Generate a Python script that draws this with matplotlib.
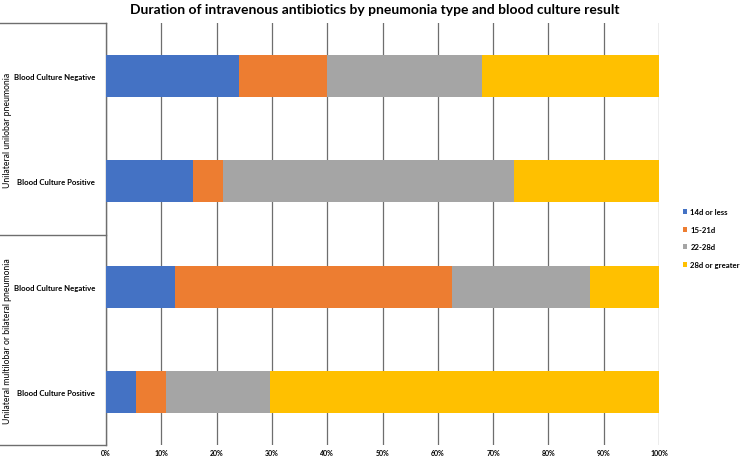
import matplotlib.pyplot as plt
import numpy as np

plt.rcParams['font.family'] = ['Lato', 'DejaVu Sans']

# categories, top to bottom
groups = ["Unilateral unilobar pneumonia", "Unilateral multilobar or bilateral pneumonia"]
rows = ["Blood Culture Negative", "Blood Culture Positive",
        "Blood Culture Negative", "Blood Culture Positive"]
series = ["14d or less", "15-21d", "22-28d", "28d or greater"]
colors = ["#4472C4", "#ED7D31", "#A5A5A5", "#FFC000"]

# percent of patients in each duration band
d14 = [24.0, 15.8, 12.5, 5.4]
d15_21 = [16.0, 5.3, 50.0, 5.4]
d22_28 = [28.0, 52.6, 25.0, 18.9]
d28plus = [32.0, 26.3, 12.5, 70.3]
values = [d14, d15_21, d22_28, d28plus]

fig = plt.figure(figsize=(7.4, 4.6), dpi=100)
ax = fig.add_axes([106 / 740, 14 / 460, 553 / 740, 422 / 460])

y = np.arange(len(rows))
left = np.zeros(len(rows))
for name, vals, c in zip(series, values, colors):
    ax.barh(y, vals, left=left, height=0.4, color=c, label=name, zorder=3)
    left += np.array(vals)

ax.set_ylim(3.5, -0.5)
ax.set_xlim(0, 100)
ax.set_xticks(np.arange(0, 101, 10))
ax.set_xticklabels([f"{v}%" for v in range(0, 101, 10)], fontsize=5, fontweight='bold')
ax.set_yticks(y)
ax.set_yticklabels(rows, fontsize=5.6, fontweight='bold')
ax.tick_params(axis='x', length=0, pad=3)
ax.tick_params(axis='y', length=0, pad=8)
ax.xaxis.grid(True, color='#6e6e6e', linewidth=0.9, zorder=0)
for s in ['top', 'right', 'bottom']:
    ax.spines[s].set_visible(False)
ax.spines['left'].set_color('#6e6e6e')
ax.spines['left'].set_linewidth(1.0)

# group box on the left
def fx(px):
    return px / 740
def fy(py):
    return 1 - py / 460

line_kw = dict(color='#6e6e6e', linewidth=1.0, transform=fig.transFigure)
for py in [24, 236, 446]:
    fig.add_artist(plt.Line2D([0, fx(106)], [fy(py), fy(py)], **line_kw))
fig.text(fx(8), fy(130), groups[0], rotation=90, ha='center', va='center', fontsize=6.2)
fig.text(fx(8), fy(341), groups[1], rotation=90, ha='center', va='center', fontsize=6.2)

fig.text(fx(375), fy(10), "Duration of intravenous antibiotics by pneumonia type and blood culture result",
         ha='center', va='center', fontsize=10, fontweight='bold')

ax.legend(loc='center left', bbox_to_anchor=(1.03, 0.49), frameon=False,
          handlelength=0.6, handleheight=0.6, handletextpad=0.4, labelspacing=1.35,
          prop={'weight': 'bold', 'size': 5.6})

fig.savefig("out.png", dpi=100)
